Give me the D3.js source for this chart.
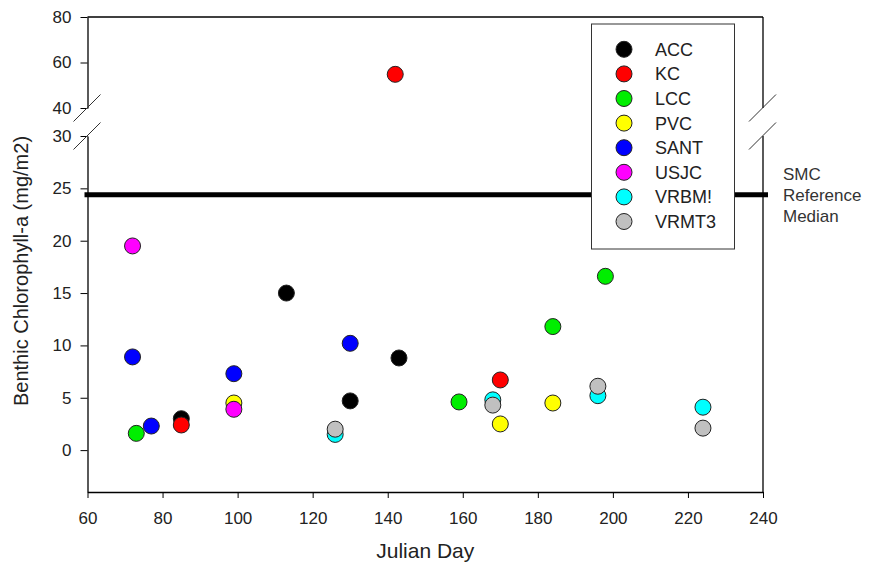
<!DOCTYPE html>
<html>
<head>
<meta charset="utf-8">
<script src="https://cdn.jsdelivr.net/npm/d3@7"></script>
<style>
  body { margin: 0; background: #fff; }
  svg { font-family: Arial, "Liberation Sans", sans-serif; }
</style>
</head>
<body>
<svg width="887" height="571"></svg>
<script>
// sites, in plotting order
var sites = ['ACC', 'KC', 'LCC', 'PVC', 'SANT', 'USJC', 'VRBM!', 'VRMT3'];
var siteColors = ['#000000', '#ff0000', '#00ee00', '#ffff00', '#0000ff', '#ff00ff', '#00ffff', '#c0c0c0'];

// [julian day, chlorophyll-a]
var acc = [[85, 3.0], [113, 15.0], [130, 4.7], [143, 8.8]];
var kc = [[85, 2.4], [142, 54.8], [170, 6.7]];
var lcc = [[73, 1.6], [159, 4.6], [184, 11.8], [198, 16.6]];
var pvc = [[99, 4.5], [170, 2.5], [184, 4.5]];
var sant = [[72, 8.9], [77, 2.3], [99, 7.3], [130, 10.2]];
var usjc = [[72, 19.5], [99, 3.9]];
var vrbm = [[126, 1.5], [168, 4.8], [196, 5.2], [224, 4.1]];
var vrmt3 = [[126, 2.0], [168, 4.3], [196, 6.1], [224, 2.1]];
var seriesValues = [acc, kc, lcc, pvc, sant, usjc, vrbm, vrmt3];

var smcMedian = 24.4;
var xTicks = [60, 80, 100, 120, 140, 160, 180, 200, 220, 240];
var yTicksLow = [0, 5, 10, 15, 20, 25, 30];
var yTicksHigh = [40, 60, 80];

// plot box (note: "top" is reserved on window, so use plotTop)
var plotLeft = 87.5, plotRight = 763, plotTop = 17, plotBottom = 492;
var breakTop = 108, breakBottom = 136;

var svg = d3.select('svg');

var x = d3.scaleLinear().domain([60, 240]).range([plotLeft, plotRight]);
var yLow = d3.scaleLinear().domain([-4, 30]).range([plotBottom, breakBottom]);
var yHigh = d3.scaleLinear().domain([40, 80]).range([breakTop, plotTop]);
function y(v) { return v > 35 ? yHigh(v) : yLow(v); }

// frame: top and right
svg.append('line')
    .attr('x1', plotLeft).attr('x2', plotRight).attr('y1', plotTop).attr('y2', plotTop)
    .attr('stroke', '#000').attr('stroke-width', 1.3);
svg.append('line')
    .attr('x1', plotRight).attr('x2', plotRight).attr('y1', plotTop).attr('y2', breakTop)
    .attr('stroke', '#000').attr('stroke-width', 1.3);
svg.append('line')
    .attr('x1', plotRight).attr('x2', plotRight).attr('y1', breakBottom).attr('y2', plotBottom)
    .attr('stroke', '#000').attr('stroke-width', 1.3);

// x axis
var xAxis = svg.append('g')
    .attr('transform', 'translate(0,' + plotBottom + ')')
    .call(d3.axisBottom(x).tickValues(xTicks).tickSize(6).tickSizeOuter(0).tickPadding(14));

// y axes (broken)
var yAxisHigh = svg.append('g')
    .attr('transform', 'translate(' + plotLeft + ',0)')
    .call(d3.axisLeft(yHigh).tickValues(yTicksHigh).tickSize(7).tickSizeOuter(0).tickPadding(9));
var yAxisLow = svg.append('g')
    .attr('transform', 'translate(' + plotLeft + ',0)')
    .call(d3.axisLeft(yLow).tickValues(yTicksLow).tickSize(7).tickSizeOuter(0).tickPadding(9));

[xAxis, yAxisHigh, yAxisLow].forEach(function(g) {
  g.selectAll('path').attr('stroke', '#000').attr('stroke-width', 1.3);
  g.selectAll('line').attr('stroke', '#000');
  g.selectAll('text').attr('fill', '#222').style('font-size', '17px');
});

// break marks
[plotLeft, plotRight].forEach(function(bx) {
  [breakTop, breakBottom].forEach(function(by) {
    svg.append('line')
        .attr('x1', bx - 14).attr('y1', by + 13.5)
        .attr('x2', bx + 13).attr('y2', by - 13.5)
        .attr('stroke', '#333').attr('stroke-width', 1);
  });
});

// reference median line
svg.append('line')
    .attr('x1', plotLeft - 3).attr('x2', plotRight + 5)
    .attr('y1', yLow(smcMedian)).attr('y2', yLow(smcMedian))
    .attr('stroke', '#000').attr('stroke-width', 5);

svg.append('text')
    .attr('x', 783).attr('y', 180)
    .attr('fill', '#333').style('font-size', '17px')
    .selectAll('tspan')
    .data(['SMC', 'Reference', 'Median'])
    .enter().append('tspan')
    .attr('x', 783)
    .attr('dy', (d, i) => i === 0 ? 0 : 21)
    .text(d => d);

// points
sites.forEach(function(site, i) {
  svg.append('g').selectAll('circle')
      .data(seriesValues[i])
      .enter().append('circle')
      .attr('cx', d => x(d[0]))
      .attr('cy', d => y(d[1]))
      .attr('r', 8)
      .attr('fill', siteColors[i])
      .attr('stroke', '#222')
      .attr('stroke-width', 1);
});

// legend
var legend = svg.append('g');
legend.append('rect')
    .attr('x', 591.5).attr('y', 24).attr('width', 143).attr('height', 225)
    .attr('fill', '#fff').attr('stroke', '#333').attr('stroke-width', 1);
var rows = legend.selectAll('.row')
    .data(sites)
    .enter().append('g')
    .attr('class', 'row')
    .attr('transform', (d, i) => 'translate(0,' + (49.3 + i * 24.6) + ')');
rows.append('circle')
    .attr('cx', 624).attr('cy', 0).attr('r', 8)
    .attr('fill', (d, i) => siteColors[i])
    .attr('stroke', '#222').attr('stroke-width', 1);
rows.append('text')
    .attr('x', 655).attr('y', 6.5)
    .attr('fill', '#222').style('font-size', '18px')
    .text(d => d);

// axis titles
svg.append('text')
    .attr('x', (plotLeft + plotRight) / 2).attr('y', 558)
    .attr('text-anchor', 'middle')
    .attr('fill', '#222').style('font-size', '21px')
    .text('Julian Day');
svg.append('text')
    .attr('transform', 'translate(28,271) rotate(-90)')
    .attr('text-anchor', 'middle')
    .attr('fill', '#222').style('font-size', '20px')
    .text('Benthic Chlorophyll-a (mg/m2)');
</script>
</body>
</html>
